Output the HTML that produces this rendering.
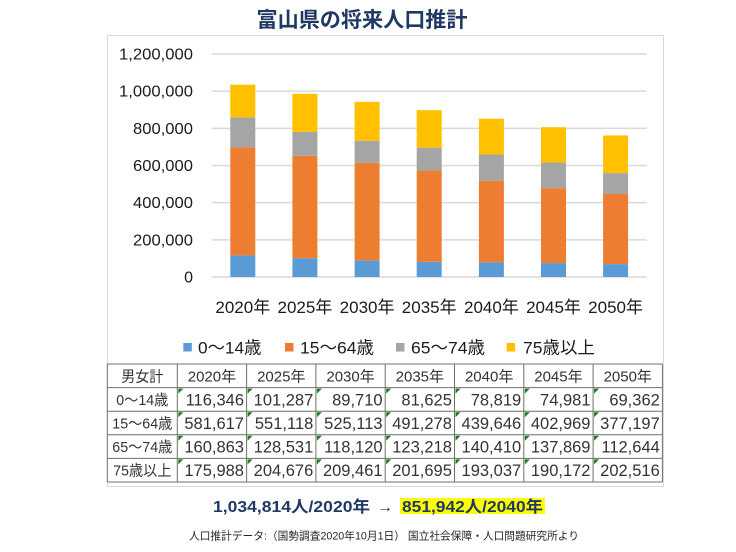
<!DOCTYPE html>
<html><head><meta charset="utf-8"><style>
html,body{margin:0;padding:0;background:#fff;}
svg{display:block;}
text{font-family:"Liberation Sans","Noto Sans CJK JP",sans-serif;}
</style></head><body>
<svg width="736" height="552" viewBox="0 0 736 552" xmlns="http://www.w3.org/2000/svg">
<rect width="736" height="552" fill="#fff"/>
<text x="362" y="27" text-anchor="middle" font-size="21" font-weight="bold" fill="#1f3864" textLength="211" lengthAdjust="spacingAndGlyphs">富山県の将来人口推計</text>
<rect x="107.5" y="35.5" width="556" height="451" fill="none" stroke="#d9d9d9" stroke-width="1"/>
<g stroke="#d9d9d9" stroke-width="1.5">
<line x1="211.7" y1="54" x2="646.7" y2="54"/>
<line x1="211.7" y1="91.17" x2="646.7" y2="91.17"/>
<line x1="211.7" y1="128.33" x2="646.7" y2="128.33"/>
<line x1="211.7" y1="165.5" x2="646.7" y2="165.5"/>
<line x1="211.7" y1="202.67" x2="646.7" y2="202.67"/>
<line x1="211.7" y1="239.83" x2="646.7" y2="239.83"/>
<line x1="211.7" y1="277" x2="646.7" y2="277"/>
</g>
<g font-size="16" fill="#1a1a1a" text-anchor="end">
<text x="193" y="59.5" textLength="74" lengthAdjust="spacingAndGlyphs">1,200,000</text>
<text x="193" y="96.7" textLength="74" lengthAdjust="spacingAndGlyphs">1,000,000</text>
<text x="193" y="133.8" textLength="60" lengthAdjust="spacingAndGlyphs">800,000</text>
<text x="193" y="171" textLength="60" lengthAdjust="spacingAndGlyphs">600,000</text>
<text x="193" y="208.2" textLength="60" lengthAdjust="spacingAndGlyphs">400,000</text>
<text x="193" y="245.3" textLength="60" lengthAdjust="spacingAndGlyphs">200,000</text>
<text x="193" y="282.5">0</text>
</g>
<g>
<rect x="230.3" y="255.38" width="25" height="21.62" fill="#5b9bd5"/>
<rect x="230.3" y="147.30" width="25" height="108.08" fill="#ed7d31"/>
<rect x="230.3" y="117.40" width="25" height="29.90" fill="#a5a5a5"/>
<rect x="230.3" y="84.70" width="25" height="32.70" fill="#ffc000"/>

<rect x="292.4" y="258.18" width="25" height="18.82" fill="#5b9bd5"/>
<rect x="292.4" y="155.76" width="25" height="102.42" fill="#ed7d31"/>
<rect x="292.4" y="131.88" width="25" height="23.88" fill="#a5a5a5"/>
<rect x="292.4" y="93.84" width="25" height="38.04" fill="#ffc000"/>

<rect x="354.6" y="260.33" width="25" height="16.67" fill="#5b9bd5"/>
<rect x="354.6" y="162.75" width="25" height="97.58" fill="#ed7d31"/>
<rect x="354.6" y="140.79" width="25" height="21.96" fill="#a5a5a5"/>
<rect x="354.6" y="101.87" width="25" height="38.92" fill="#ffc000"/>

<rect x="416.7" y="261.83" width="25" height="15.17" fill="#5b9bd5"/>
<rect x="416.7" y="170.54" width="25" height="91.29" fill="#ed7d31"/>
<rect x="416.7" y="147.64" width="25" height="22.90" fill="#a5a5a5"/>
<rect x="416.7" y="110.16" width="25" height="37.48" fill="#ffc000"/>

<rect x="478.9" y="262.35" width="25" height="14.65" fill="#5b9bd5"/>
<rect x="478.9" y="180.65" width="25" height="81.70" fill="#ed7d31"/>
<rect x="478.9" y="154.56" width="25" height="26.09" fill="#a5a5a5"/>
<rect x="478.9" y="118.69" width="25" height="35.87" fill="#ffc000"/>

<rect x="541.0" y="263.07" width="25" height="13.93" fill="#5b9bd5"/>
<rect x="541.0" y="188.18" width="25" height="74.89" fill="#ed7d31"/>
<rect x="541.0" y="162.56" width="25" height="25.62" fill="#a5a5a5"/>
<rect x="541.0" y="127.22" width="25" height="35.34" fill="#ffc000"/>

<rect x="603.1" y="264.11" width="25" height="12.89" fill="#5b9bd5"/>
<rect x="603.1" y="194.02" width="25" height="70.09" fill="#ed7d31"/>
<rect x="603.1" y="173.08" width="25" height="20.94" fill="#a5a5a5"/>
<rect x="603.1" y="135.45" width="25" height="37.63" fill="#ffc000"/>
</g>
<g font-size="17" fill="#1a1a1a" text-anchor="middle">
<text x="242.8" y="313">2020年</text>
<text x="304.9" y="313">2025年</text>
<text x="367.1" y="313">2030年</text>
<text x="429.2" y="313">2035年</text>
<text x="491.4" y="313">2040年</text>
<text x="553.5" y="313">2045年</text>
<text x="615.6" y="313">2050年</text>
</g>
<g font-size="17" fill="#1a1a1a">
<rect x="183.3" y="343" width="8.5" height="8.5" fill="#5b9bd5"/>
<text x="198" y="353.3" textLength="63.5" lengthAdjust="spacingAndGlyphs">0〜14歳</text>
<rect x="285" y="343" width="8.5" height="8.5" fill="#ed7d31"/>
<text x="300" y="353.3" textLength="74" lengthAdjust="spacingAndGlyphs">15〜64歳</text>
<rect x="396" y="343" width="8.5" height="8.5" fill="#a5a5a5"/>
<text x="411" y="353.3" textLength="74" lengthAdjust="spacingAndGlyphs">65〜74歳</text>
<rect x="506.7" y="343" width="8.5" height="8.5" fill="#ffc000"/>
<text x="523" y="353.3" textLength="72" lengthAdjust="spacingAndGlyphs">75歳以上</text>
</g>
<rect x="107.3" y="364" width="555.1" height="118" fill="#fff"/>
<g stroke="#6f6f6f" stroke-width="1">
<line x1="107.3" y1="364" x2="662.4" y2="364"/>
<line x1="107.3" y1="387.6" x2="662.4" y2="387.6"/>
<line x1="107.3" y1="411.2" x2="662.4" y2="411.2"/>
<line x1="107.3" y1="434.8" x2="662.4" y2="434.8"/>
<line x1="107.3" y1="458.4" x2="662.4" y2="458.4"/>
<line x1="107.3" y1="482" x2="662.4" y2="482"/>
<line x1="107.3" y1="364" x2="107.3" y2="482"/>
<line x1="177.3" y1="364" x2="177.3" y2="482"/>
<line x1="246.6" y1="364" x2="246.6" y2="482"/>
<line x1="315.9" y1="364" x2="315.9" y2="482"/>
<line x1="385.2" y1="364" x2="385.2" y2="482"/>
<line x1="454.5" y1="364" x2="454.5" y2="482"/>
<line x1="523.8" y1="364" x2="523.8" y2="482"/>
<line x1="593.1" y1="364" x2="593.1" y2="482"/>
<line x1="662.4" y1="364" x2="662.4" y2="482"/>
</g>
<g fill="#1e7b1e">
<path d="M178.3 388.6h5l-5 5z"/><path d="M247.6 388.6h5l-5 5z"/><path d="M316.9 388.6h5l-5 5z"/><path d="M386.2 388.6h5l-5 5z"/><path d="M455.5 388.6h5l-5 5z"/><path d="M524.8 388.6h5l-5 5z"/><path d="M594.1 388.6h5l-5 5z"/>
<path d="M178.3 412.2h5l-5 5z"/><path d="M247.6 412.2h5l-5 5z"/><path d="M316.9 412.2h5l-5 5z"/><path d="M386.2 412.2h5l-5 5z"/><path d="M455.5 412.2h5l-5 5z"/><path d="M524.8 412.2h5l-5 5z"/><path d="M594.1 412.2h5l-5 5z"/>
<path d="M178.3 435.8h5l-5 5z"/><path d="M247.6 435.8h5l-5 5z"/><path d="M316.9 435.8h5l-5 5z"/><path d="M386.2 435.8h5l-5 5z"/><path d="M455.5 435.8h5l-5 5z"/><path d="M524.8 435.8h5l-5 5z"/><path d="M594.1 435.8h5l-5 5z"/>
<path d="M178.3 459.4h5l-5 5z"/><path d="M247.6 459.4h5l-5 5z"/><path d="M316.9 459.4h5l-5 5z"/><path d="M386.2 459.4h5l-5 5z"/><path d="M455.5 459.4h5l-5 5z"/><path d="M524.8 459.4h5l-5 5z"/><path d="M594.1 459.4h5l-5 5z"/>
</g>
<g font-size="15" fill="#333" text-anchor="middle">
<text x="142.3" y="381.3" textLength="42" lengthAdjust="spacingAndGlyphs">男女計</text>
<text x="211.95" y="381.3">2020年</text>
<text x="281.25" y="381.3">2025年</text>
<text x="350.55" y="381.3">2030年</text>
<text x="419.85" y="381.3">2035年</text>
<text x="489.15" y="381.3">2040年</text>
<text x="558.45" y="381.3">2045年</text>
<text x="627.75" y="381.3">2050年</text>
<text x="142.3" y="404.9" textLength="52" lengthAdjust="spacingAndGlyphs">0〜14歳</text>
<text x="142.3" y="428.5" textLength="60" lengthAdjust="spacingAndGlyphs">15〜64歳</text>
<text x="142.3" y="452.1" textLength="60" lengthAdjust="spacingAndGlyphs">65〜74歳</text>
<text x="142.3" y="475.7" textLength="58" lengthAdjust="spacingAndGlyphs">75歳以上</text>
</g>
<g font-size="16.5" fill="#333" text-anchor="end">
<text x="244" y="405.3">116,346</text><text x="313.3" y="405.3">101,287</text><text x="382.6" y="405.3">89,710</text><text x="451.9" y="405.3">81,625</text><text x="521.2" y="405.3">78,819</text><text x="590.5" y="405.3">74,981</text><text x="659.8" y="405.3">69,362</text>
<text x="244" y="428.9">581,617</text><text x="313.3" y="428.9">551,118</text><text x="382.6" y="428.9">525,113</text><text x="451.9" y="428.9">491,278</text><text x="521.2" y="428.9">439,646</text><text x="590.5" y="428.9">402,969</text><text x="659.8" y="428.9">377,197</text>
<text x="244" y="452.5">160,863</text><text x="313.3" y="452.5">128,531</text><text x="382.6" y="452.5">118,120</text><text x="451.9" y="452.5">123,218</text><text x="521.2" y="452.5">140,410</text><text x="590.5" y="452.5">137,869</text><text x="659.8" y="452.5">112,644</text>
<text x="244" y="476.1">175,988</text><text x="313.3" y="476.1">204,676</text><text x="382.6" y="476.1">209,461</text><text x="451.9" y="476.1">201,695</text><text x="521.2" y="476.1">193,037</text><text x="590.5" y="476.1">190,172</text><text x="659.8" y="476.1">202,516</text>
</g>
<rect x="400" y="498" width="145" height="16" fill="#ffff00"/>
<g font-size="16" font-weight="bold" fill="#1f3864">
<text x="213" y="512" textLength="157" lengthAdjust="spacingAndGlyphs">1,034,814人/2020年</text>
<text x="377" y="512" font-weight="normal">→</text>
<text x="402" y="512" textLength="141" lengthAdjust="spacingAndGlyphs">851,942人/2040年</text>
</g>
<text x="189" y="539.5" font-size="11" fill="#262626" textLength="390" lengthAdjust="spacingAndGlyphs">人口推計データ:（国勢調査2020年10月1日） 国立社会保障・人口問題研究所より</text>
</svg>
</body></html>
